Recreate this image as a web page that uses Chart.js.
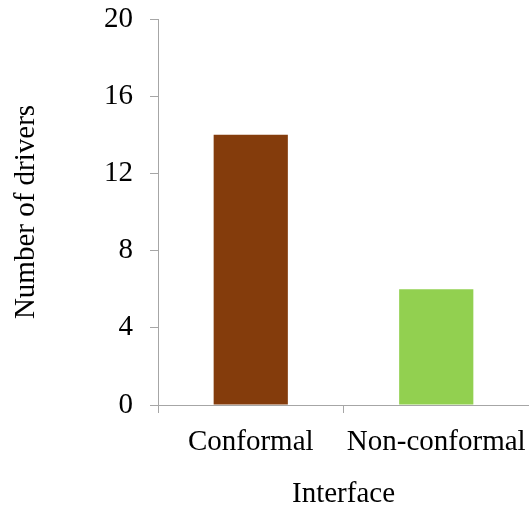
<!DOCTYPE html>
<html>
<head>
<meta charset="utf-8">
<script src="https://cdn.jsdelivr.net/npm/chart.js@4/dist/chart.umd.min.js"></script>
<style>
  html, body { margin: 0; padding: 0; background: #fff; }
  #wrap { width: 529px; height: 512px; }
</style>
</head>
<body>
<div id="wrap"><canvas id="c" width="529" height="512"></canvas></div>
<script>
const categories = ["Conformal", "Non-conformal"];
const driverCounts = [14, 6];
const barColors = ["#843C0C", "#92D050"];
const yTicks = [0, 4, 8, 12, 16, 20];

const serif = "'Liberation Serif', 'Times New Roman', serif";
const axisGray = "#a6a6a6";
const fontSize = 29;

new Chart(document.getElementById("c"), {
  type: "bar",
  data: {
    labels: categories,
    datasets: [{
      data: driverCounts,
      backgroundColor: barColors,
      borderWidth: 0,
      categoryPercentage: 0.4,
      barPercentage: 1.0
    }]
  },
  options: {
    responsive: false,
    devicePixelRatio: 1,
    animation: false,
    layout: { padding: { top: 19, right: 0, left: 0, bottom: 0 } },
    plugins: { legend: { display: false }, tooltip: { enabled: false } },
    scales: {
      x: {
        offset: true,
        afterFit: (axis) => {
          axis.height = 107;
          axis.paddingLeft = 0;
          axis.paddingRight = 0;
        },
        grid: { offset: true, drawOnChartArea: false, tickLength: 8, color: axisGray },
        border: { color: axisGray, width: 1 },
        ticks: { color: "#000", font: { family: serif, size: fontSize }, padding: 12, maxRotation: 0 },
        title: { display: true, text: "Interface", color: "#000", font: { family: serif, size: fontSize }, padding: { top: 0, bottom: 0 } }
      },
      y: {
        min: 0,
        max: 20,
        afterBuildTicks: (axis) => { axis.ticks = yTicks.map(v => ({ value: v })); },
        afterFit: (axis) => {
          axis.width = 158;
          axis.paddingTop = 0;
          axis.paddingBottom = 0;
        },
        grid: { drawOnChartArea: false, tickLength: 8, color: axisGray },
        border: { color: axisGray, width: 1 },
        ticks: { color: "#000", font: { family: serif, size: fontSize }, padding: 17 },
        title: { display: true, text: "Number of drivers", color: "#000", font: { family: serif, size: fontSize }, padding: { top: 9, bottom: 0 } }
      }
    }
  }
});
</script>
</body>
</html>
